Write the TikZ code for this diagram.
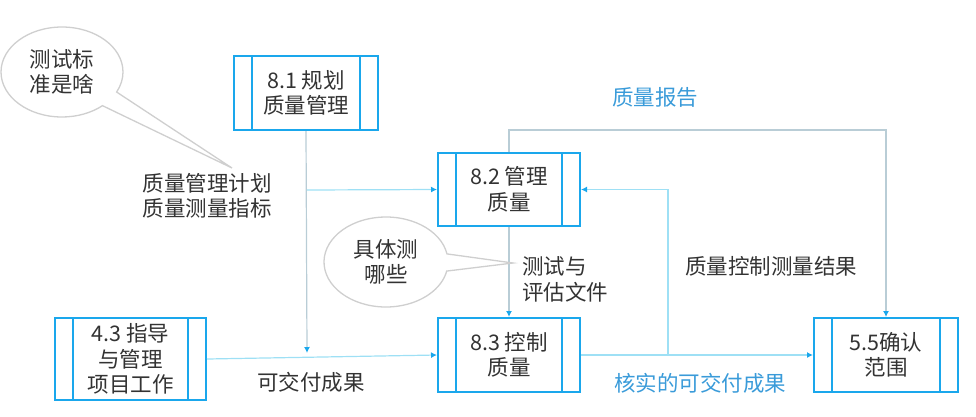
\documentclass[tikz,border=0pt]{standalone}
\usepackage{fontspec}
\setmainfont{Noto Sans CJK SC}
\usetikzlibrary{shapes.callouts,arrows.meta}
\definecolor{boxblue}{HTML}{1AA7EC}
\definecolor{lblblue}{HTML}{3A9BD9}
\definecolor{lnA}{HTML}{B9CDD6}
\definecolor{lnB}{HTML}{9EE0F5}
\definecolor{txt}{HTML}{333333}
\definecolor{callgray}{HTML}{CFCFCF}
\tikzset{
  procbox/.style={draw=boxblue, line width=2pt, fill=white, align=center, inner sep=0pt, text=txt,
    font=\fontsize{21.5}{25.5}\selectfont,
    path picture={
      \draw[boxblue, line width=2pt]
        ([xshift=18pt]path picture bounding box.north west) -- ([xshift=18pt]path picture bounding box.south west)
        ([xshift=-18pt]path picture bounding box.north east) -- ([xshift=-18pt]path picture bounding box.south east);}},
  lbl/.style={inner sep=0pt, text=txt, font=\fontsize{21.5}{25.5}\selectfont},
  bluelbl/.style={inner sep=0pt, text=lblblue, font=\fontsize{21.5}{25.5}\selectfont},
  conn/.style={line width=1.2pt, -{Latex[length=6pt,width=6pt,color=boxblue]}},
  bubble/.style={ellipse callout, draw=callgray, line width=1.3pt, fill=white, inner sep=0pt,
    text=txt, align=center, font=\fontsize{21.5}{25.5}\selectfont, callout pointer arc=22}
}
\begin{document}
\begin{tikzpicture}[x=1pt,y=-1pt]
\useasboundingbox (0,0) rectangle (976,416);
% boxes
\node[procbox, minimum width=144pt, minimum height=74pt] (b81) at (306,93) {8.1 规划\\质量管理};
\node[procbox, minimum width=142pt, minimum height=73pt] (b82) at (509,189.5) {8.2 管理\\质量};
\node[procbox, minimum width=151pt, minimum height=82pt] (b43) at (130.5,359) {4.3 指导\\与管理\\项目工作};
\node[procbox, minimum width=142pt, minimum height=74pt] (b83) at (509,355) {8.3 控制\\质量};
\node[procbox, minimum width=144pt, minimum height=74pt] (b55) at (886,355) {5.5确认\\范围};
% junction coordinates
\coordinate (j1) at (307,353);
\coordinate (j2) at (307,190);
\coordinate (j3) at (668,355);
% connectors
\draw[conn, draw=lnA] (b81.south) -- (j1);
\draw[conn, draw=lnB] (j2) -- (b82.west);
\draw[conn, draw=lnB] (b43.east) -- (b83.west);
\draw[conn, draw=lnA] (b82.south) -- (b83.north);
\draw[conn, draw=lnA] (b82.north) -- ++(0,-22) -| (b55.north);
\draw[conn, draw=lnB] (b83.east) -- (b55.west);
\draw[conn, draw=lnB] (j3) |- (b82.east);
% labels
\node[bluelbl] (l1) at (655,97) {质量报告};
\node[lbl, align=center] (l2) at (207,196) {质量管理计划\\质量测量指标};
\node[lbl, align=left, anchor=west] (l3) at (522,279.5) {测试与\\评估文件};
\node[lbl] (l4) at (771,266) {质量控制测量结果};
\node[lbl] (l5) at (311,382) {可交付成果};
\node[bluelbl] (l6) at (700,383) {核实的可交付成果};
% callouts
\node[bubble, minimum width=122pt, minimum height=90pt, callout absolute pointer={(232,168)}] (c1) at (62,72) {测试标\\准是啥};
\node[bubble, minimum width=124pt, minimum height=90pt, callout absolute pointer={(513,263)}] (c2) at (386,262) {具体测\\哪些};
\end{tikzpicture}
\end{document}
